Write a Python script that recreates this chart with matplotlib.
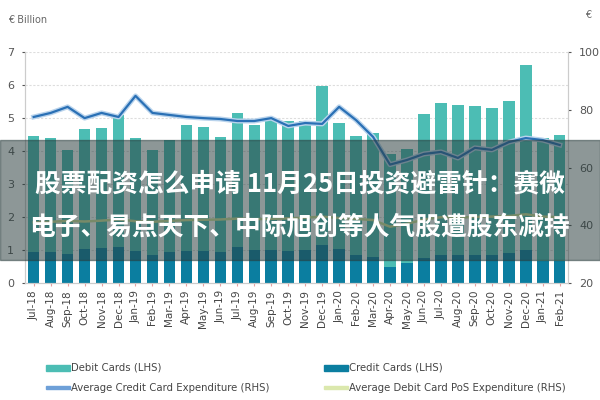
import numpy as np
import matplotlib.pyplot as plt
import matplotlib.patheffects as pe
from matplotlib.patches import Rectangle

months = ["Jul-18", "Aug-18", "Sep-18", "Oct-18", "Nov-18", "Dec-18",
          "Jan-19", "Feb-19", "Mar-19", "Apr-19", "May-19", "Jun-19",
          "Jul-19", "Aug-19", "Sep-19", "Oct-19", "Nov-19", "Dec-19",
          "Jan-20", "Feb-20", "Mar-20", "Apr-20", "May-20", "Jun-20",
          "Jul-20", "Aug-20", "Sep-20", "Oct-20", "Nov-20", "Dec-20",
          "Jan-21", "Feb-21"]

# stacked bars: credit at the bottom, debit on top (EUR billion)
credit_cards = [0.95, 0.95, 0.88, 1.03, 1.05, 1.09, 0.98, 0.85, 0.93, 0.98,
                0.98, 0.93, 1.09, 1.0, 1.0, 0.98, 1.0, 1.15, 1.03, 0.85,
                0.78, 0.5, 0.6, 0.75, 0.85, 0.85, 0.85, 0.85, 0.9, 1.0,
                0.68, 0.68]
bar_totals = [4.45, 4.39, 4.03, 4.67, 4.7, 5.09, 4.39, 4.03, 4.33, 4.79,
              4.73, 4.42, 5.15, 4.79, 4.94, 4.92, 4.9, 5.97, 4.85, 4.45,
              4.55, 3.9, 4.06, 5.12, 5.45, 5.39, 5.36, 5.3, 5.52, 6.6,
              4.4, 4.5]
debit_cards = [t - c for t, c in zip(bar_totals, credit_cards)]

# right axis (EUR)
avg_credit_exp = [77.5, 78.9, 81.0, 77.1, 78.9, 77.5, 84.8, 78.9, 78.2, 77.5,
                  77.1, 76.8, 76.1, 76.1, 77.1, 74.4, 75.4, 75.1, 81.0, 76.4,
                  70.6, 61.0, 62.6, 64.7, 65.4, 63.3, 66.8, 66.1, 68.8, 70.2,
                  69.5, 67.8]
avg_debit_pos_exp = [41.0, 41.2, 41.5, 41.3, 41.6, 42.0, 41.4, 41.2, 41.5, 41.8,
                     41.9, 42.0, 42.3, 42.1, 42.2, 42.4, 42.6, 43.0, 42.5, 42.2,
                     41.8, 39.5, 40.5, 42.0, 42.8, 42.6, 42.9, 43.0, 43.2, 43.8,
                     43.0, 42.8]

title_lines = ["股票配资怎么申请 11月25日投资避雷针：赛微",
               "电子、易点天下、中际旭创等人气股遭股东减持"]

plt.rcParams['font.family'] = ['DejaVu Sans']

fig = plt.figure(figsize=(6, 4), dpi=100)
ax = fig.add_axes([0.042, 0.2925, 0.905, 0.5775])
ax2 = ax.twinx()

x = np.arange(len(months))
debit_col = "#4cbdb4"
credit_col = "#0b7ea0"

ax.bar(x, credit_cards, width=0.68, color=credit_col, zorder=2)
ax.bar(x, debit_cards, width=0.68, bottom=credit_cards, color=debit_col, zorder=2)

ax.set_ylim(0, 7)
ax.set_xlim(-0.5, len(months) - 0.5)
ax.set_yticks(range(0, 8))
for v in range(1, 8):
    ax.axhline(v, color="#dddddd", lw=0.8, ls=(0, (2, 1.5)), zorder=1)

ax2.plot(x, avg_credit_exp, color="#2a70b5", lw=1.6, zorder=3,
         path_effects=[pe.Stroke(linewidth=3.6, foreground="#b9d3ec"), pe.Normal()])
ax2.plot(x, avg_debit_pos_exp, color="#d3e39a", lw=1.8, zorder=3)
ax2.set_ylim(20, 100)
ax2.set_yticks([20, 40, 60, 80, 100])

ax.set_xticks(x)
ax.set_xticklabels(months, rotation=90, fontsize=7.5, color="#444444")
ax.tick_params(axis="x", length=2, color="#e8a0a0", pad=3)
ax.tick_params(axis="y", labelsize=8, colors="#555555", length=2, pad=6)
ax2.tick_params(axis="y", labelsize=8, colors="#555555", length=2, pad=6)

for a in (ax, ax2):
    for s in a.spines.values():
        s.set_color("#cccccc")
        s.set_linewidth(0.8)
    a.spines["top"].set_visible(False)

fig.text(0.013, 0.95, "€ Billion", fontsize=7, color="#666666", va="center")
fig.text(0.985, 0.962, "€", fontsize=7, color="#666666", va="center", ha="right")

# legend
legend_items = [
    (0.077, 0.08, "bar", debit_col, "Debit Cards (LHS)"),
    (0.077, 0.031, "line", "#6ea0d8", "Average Credit Card Expenditure (RHS)"),
    (0.54, 0.08, "bar", credit_col, "Credit Cards (LHS)"),
    (0.54, 0.031, "line", "#dbe8ad", "Average Debit Card PoS Expenditure (RHS)"),
]
for lx, ly, kind, col, lab in legend_items:
    if kind == "bar":
        fig.patches.append(Rectangle((lx, ly - 0.008), 0.04, 0.016,
                                     transform=fig.transFigure, color=col))
    else:
        fig.patches.append(Rectangle((lx, ly - 0.003), 0.04, 0.006,
                                     transform=fig.transFigure, color=col))
    fig.text(lx + 0.042, ly, lab, fontsize=7.3, color="#444444", va="center")

# dark band with headline
fig.patches.append(Rectangle((0, 0.35), 1, 0.3, transform=fig.transFigure,
                             color="#283c3c", alpha=0.53, zorder=10))
fig.text(0.5, 0.541, title_lines[0], fontsize=18.5, color="white", weight="bold",
         family=["Noto Sans CJK SC", "DejaVu Sans"], ha="center", va="center", zorder=11)
fig.text(0.5, 0.431, title_lines[1], fontsize=18.5, color="white", weight="bold",
         family=["Noto Sans CJK SC", "DejaVu Sans"], ha="center", va="center", zorder=11)

plt.savefig("out.png", dpi=100)
